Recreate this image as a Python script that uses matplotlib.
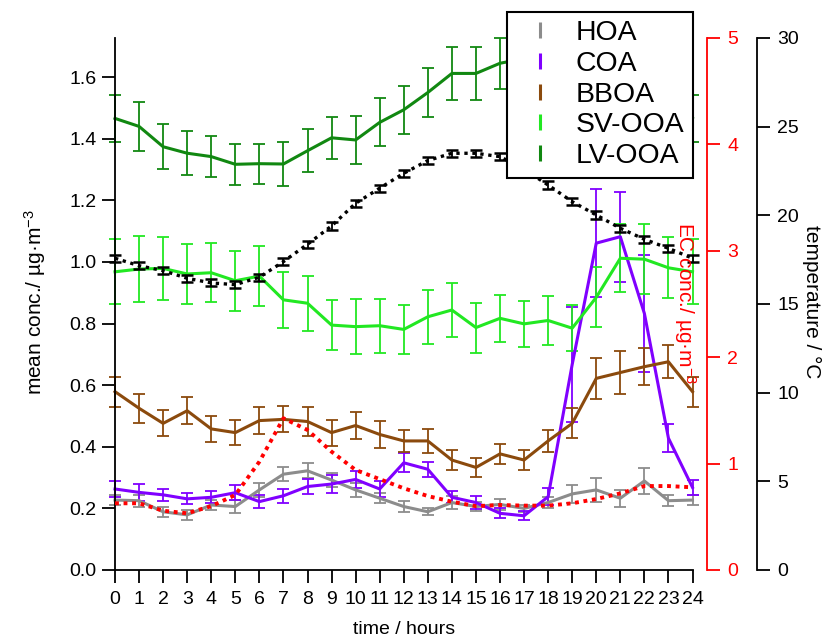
"""Diurnal profiles of OA factors with EC and temperature on extra axes."""

import matplotlib

matplotlib.use("Agg")
import matplotlib.pyplot as plt
from matplotlib.lines import Line2D

plt.rcParams["font.family"] = ["Liberation Sans", "DejaVu Sans"]
plt.rcParams["mathtext.fontset"] = "custom"
plt.rcParams["mathtext.rm"] = "Liberation Sans"
plt.rcParams["mathtext.it"] = "Liberation Sans:italic"

hours = list(range(25))

hoa = [0.227, 0.225, 0.189, 0.179, 0.211, 0.206, 0.260, 0.311, 0.322, 0.292,
       0.260, 0.233, 0.206, 0.189, 0.219, 0.206, 0.213, 0.200, 0.219, 0.247,
       0.260, 0.233, 0.289, 0.225, 0.227]
hoa_err = [0.016, 0.019, 0.016, 0.017, 0.016, 0.020, 0.024, 0.023, 0.024, 0.024,
           0.022, 0.017, 0.018, 0.012, 0.021, 0.014, 0.019, 0.012, 0.018, 0.030,
           0.038, 0.027, 0.041, 0.018, 0.016]

coa = [0.263, 0.252, 0.244, 0.231, 0.236, 0.251, 0.222, 0.241, 0.271, 0.279,
       0.294, 0.263, 0.348, 0.327, 0.236, 0.219, 0.184, 0.176, 0.238, 0.667,
       1.061, 1.082, 0.833, 0.428, 0.268]
coa_err = [0.025, 0.027, 0.020, 0.018, 0.019, 0.025, 0.020, 0.022, 0.023, 0.029,
           0.029, 0.025, 0.031, 0.024, 0.019, 0.022, 0.016, 0.014, 0.027, 0.187,
           0.176, 0.146, 0.190, 0.046, 0.025]

bboa = [0.579, 0.525, 0.476, 0.517, 0.458, 0.446, 0.485, 0.489, 0.482, 0.446,
        0.469, 0.440, 0.419, 0.419, 0.357, 0.333, 0.377, 0.357, 0.419, 0.476,
        0.622, 0.641, 0.660, 0.676, 0.579]
bboa_err = [0.049, 0.047, 0.042, 0.043, 0.042, 0.040, 0.043, 0.042, 0.047, 0.042,
            0.043, 0.043, 0.037, 0.038, 0.031, 0.032, 0.032, 0.032, 0.035, 0.049,
            0.067, 0.070, 0.061, 0.054, 0.049]

sv_ooa = [0.968, 0.977, 0.979, 0.961, 0.965, 0.939, 0.954, 0.877, 0.866, 0.795,
          0.790, 0.793, 0.781, 0.822, 0.844, 0.787, 0.817, 0.799, 0.810, 0.785,
          0.885, 1.012, 1.009, 0.981, 0.968]
sv_ooa_err = [0.105, 0.108, 0.102, 0.097, 0.096, 0.098, 0.098, 0.092, 0.090, 0.081,
              0.089, 0.088, 0.080, 0.087, 0.089, 0.081, 0.076, 0.075, 0.081, 0.075,
              0.097, 0.111, 0.113, 0.099, 0.105]

lv_ooa = [1.466, 1.440, 1.374, 1.353, 1.342, 1.317, 1.319, 1.318, 1.361, 1.403,
          1.396, 1.453, 1.494, 1.550, 1.612, 1.612, 1.645, 1.660, 1.640, 1.620,
          1.600, 1.570, 1.540, 1.500, 1.466]
lv_ooa_err = [0.077, 0.079, 0.073, 0.071, 0.066, 0.066, 0.065, 0.070, 0.069, 0.069,
              0.077, 0.078, 0.078, 0.080, 0.087, 0.085, 0.083, 0.080, 0.080, 0.080,
              0.080, 0.080, 0.080, 0.080, 0.077]

ec = [0.627, 0.627, 0.557, 0.533, 0.600, 0.705, 1.018, 1.426, 1.316, 1.112,
      0.940, 0.854, 0.768, 0.695, 0.642, 0.600, 0.611, 0.605, 0.605, 0.627,
      0.667, 0.720, 0.789, 0.789, 0.777]

temperature = [17.58, 17.16, 16.88, 16.45, 16.19, 16.09, 16.51, 17.39, 18.37, 19.40,
               20.68, 21.53, 22.37, 23.09, 23.50, 23.50, 23.31, 22.60, 21.71, 20.77,
               20.02, 19.27, 18.65, 18.14, 17.58]
temperature_err = [0.2] * 25

series = [
    ("HOA", hoa, hoa_err, "#8c8c8c"),
    ("COA", coa, coa_err, "#8000ff"),
    ("BBOA", bboa, bboa_err, "#8b4a0d"),
    ("SV-OOA", sv_ooa, sv_ooa_err, "#22e822"),
    ("LV-OOA", lv_ooa, lv_ooa_err, "#118811"),
]

W, H = 826, 642
fig = plt.figure(figsize=(W / 100, H / 100), dpi=100)
ax = fig.add_axes([115 / W, 1 - 570 / H, 577.5 / W, 532 / H])


def unclip(container):
    for artist in container.get_children():
        artist.set_clip_on(False)


for name, vals, err, color in series:
    eb = ax.errorbar(hours, vals, yerr=err, color=color, lw=2.2,
                     elinewidth=1.3, capsize=4.5, capthick=1.3)
    unclip(eb)

ax.set_xlim(0, 24)
ax.set_ylim(0, 1.727)
ax.set_xticks(hours)
ax.set_yticks([0.0, 0.2, 0.4, 0.6, 0.8, 1.0, 1.2, 1.4, 1.6])
ax.yaxis.set_major_formatter(matplotlib.ticker.FormatStrFormatter("%.1f"))
for side in ("top", "right"):
    ax.spines[side].set_visible(False)
for side in ("left", "bottom"):
    ax.spines[side].set_linewidth(1.3)
ax.tick_params(axis="both", direction="out", length=9.5, width=1.3, labelsize=14)
ax.tick_params(axis="x", pad=5.5)
ax.tick_params(axis="y", pad=4)

# EC on a red axis just right of the plot
ax_ec = ax.twinx()
ec_lines = ax_ec.plot(hours, ec, color="red", lw=2.8, ls=(0, (1.0, 1.2)))
for line in ec_lines:
    line.set_clip_on(False)
ax_ec.set_ylim(0, 5)
ax_ec.set_yticks([0, 1, 2, 3, 4, 5])
for side in ("top", "left", "bottom"):
    ax_ec.spines[side].set_visible(False)
ax_ec.spines["right"].set_position(("outward", 10.4))
ax_ec.spines["right"].set_color("red")
ax_ec.spines["right"].set_linewidth(1.3)
ax_ec.tick_params(axis="y", direction="out", length=9.5, width=1.3,
                  colors="red", labelsize=14, pad=5)

# temperature on the outer black axis
ax_t = ax.twinx()
eb = ax_t.errorbar(hours, temperature, yerr=temperature_err, color="black",
                   lw=2.4, ls=(0, (1.0, 1.4)), elinewidth=1.3, capsize=4,
                   capthick=1.8)
unclip(eb)
ax_t.set_ylim(0, 30)
ax_t.set_yticks([0, 5, 10, 15, 20, 25, 30])
for side in ("top", "left", "bottom"):
    ax_t.spines[side].set_visible(False)
ax_t.spines["right"].set_position(("outward", 46.4))
ax_t.spines["right"].set_linewidth(1.3)
ax_t.tick_params(axis="y", direction="out", length=9.5, width=1.3,
                 labelsize=14, pad=5)

fig.text(35 / W, 1 - 302 / H, "mean conc./ µg·m$^{-3}$", rotation=90,
         ha="center", va="center", fontsize=15)
fig.text(685 / W, 1 - 303 / H, "EC conc./ µg·m$^{-3}$", rotation=270,
         ha="center", va="center", fontsize=15, color="red")
fig.text(812 / W, 1 - 302 / H, "temperature / °C", rotation=270,
         ha="center", va="center", fontsize=15)
fig.text(403.75 / W, 1 - 630 / H, "time / hours", ha="center", va="center",
         fontsize=14)

handles = [Line2D([], [], color=c, marker="|", markersize=11.3,
                  markeredgewidth=2.2, linestyle="None")
           for _, _, _, c in series]
labels = [name for name, _, _, _ in series]
leg = fig.legend(handles, labels, loc="upper left",
                 bbox_to_anchor=(507 / W, 1 - 11.7 / H), borderaxespad=0,
                 fontsize=20.4, frameon=True, fancybox=False, framealpha=1,
                 edgecolor="black", borderpad=0.3, handlelength=1.76,
                 handletextpad=0.36, labelspacing=0.166)
leg.get_frame().set_linewidth(1.5)

fig.savefig("out.png", dpi=100)
